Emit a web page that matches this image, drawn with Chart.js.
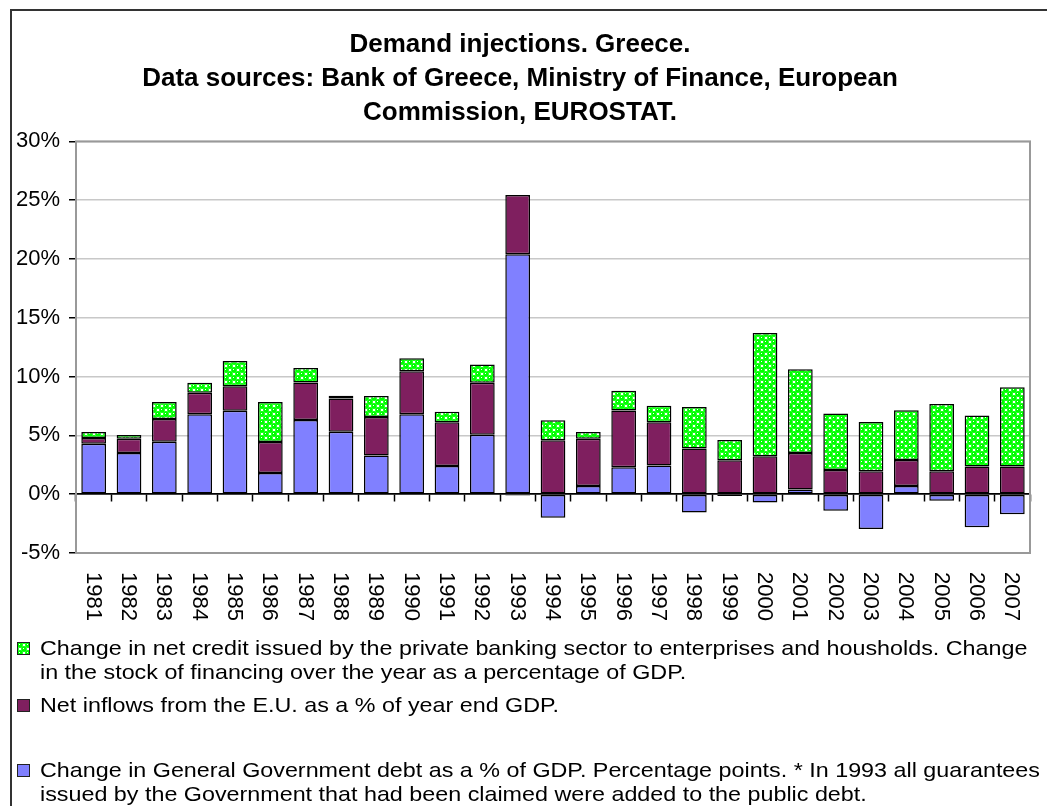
<!DOCTYPE html>
<html>
<head>
<meta charset="utf-8">
<script src="https://cdn.jsdelivr.net/npm/chart.js@4"></script>
<style>
  body { margin: 0; background: #fff; font-family: "Liberation Sans", Arial, sans-serif; }
  #wrap { position: relative; width: 1047px; height: 806px; overflow: hidden; }
  #frame { position: absolute; left: 10px; top: 9px; width: 1100px; height: 900px;
           border-left: 2px solid #333; border-top: 2px solid #333; }
  #chart { position: absolute; left: 0; top: 0; }
  .item { position: absolute; left: 17px; font-size: 21px; line-height: 24px; color: #000; }
  .item .box { position: absolute; left: 0; top: 6px; width: 11px; height: 11px; border: 1px solid #222; }
  .item .txt { position: absolute; left: 23px; white-space: nowrap; transform-origin: left top; transform: scaleX(1.11); }
</style>
</head>
<body>
<div id="wrap">
  <div id="frame"></div>
  <canvas id="chart" width="1047" height="806"></canvas>
  <div id="legend"></div>
</div>
<script>
const years = ['1981','1982','1983','1984','1985','1986','1987','1988','1989','1990','1991','1992','1993','1994',
  '1995','1996','1997','1998','1999','2000','2001','2002','2003','2004','2005','2006','2007'];

// change in general government debt, % of GDP
const govDebt = [4.3, 3.5, 4.45, 6.8, 7.1, 1.8, 6.3, 5.3, 3.3, 6.8, 2.4, 5.05, 20.4, -2.0,
  0.7, 2.3, 2.45, -1.55, -0.15, -0.7, 0.4, -1.4, -2.95, 0.7, -0.55, -2.8, -1.7];
// net inflows from the E.U., % of GDP
const euInflows = [0.48, 1.22, 1.95, 1.82, 2.09, 2.64, 3.2, 2.83, 3.26, 3.66, 3.71, 4.42, 5.04, 4.59,
  4.02, 4.82, 3.66, 3.88, 2.89, 3.23, 3.11, 2.06, 1.95, 2.21, 1.95, 2.35, 2.35];
// change in net private bank credit, % of GDP
const privateCredit = [0.5, 0.31, 1.44, 0.85, 2.13, 3.39, 1.24, 0.25, 1.78, 1.1, 0.9, 1.55, -0.1, 1.7,
  0.57, 1.67, 1.42, 3.54, 1.72, 10.47, 7.11, 4.8, 4.19, 4.22, 5.72, 4.34, 6.74];

const yTicks = [-5, 0, 5, 10, 15, 20, 25, 30];

const titleLines = [
  'Demand injections. Greece.',
  'Data sources: Bank of Greece, Ministry of Finance, European',
  'Commission, EUROSTAT.'
];

const legendGreen = ['Change in net credit issued by the private banking sector to enterprises and housholds. Change',
  'in the stock of financing over the year as a percentage of GDP.'];
const legendPurple = ['Net inflows from the E.U. as a % of year end GDP.'];
const legendBlue = ['Change in General Government debt as a % of GDP. Percentage points. * In 1993 all guarantees',
  'issued by the Government that had been claimed were added to the public debt.'];

const FONT = '"Liberation Sans", Arial, sans-serif';
const BLUE = '#8080FF';
const PURPLE = '#7F1F5F';

// green "balls" pattern like the excel fill
function makePattern() {
  const c = document.createElement('canvas');
  c.width = 8; c.height = 8;
  const g = c.getContext('2d');
  g.fillStyle = '#fff';
  g.fillRect(0, 0, 8, 8);
  g.fillStyle = '#00FF00';
  [[2, 2], [6, 6]].forEach(([cx, cy]) => {
    for (let dx = -8; dx <= 8; dx += 8) {
      for (let dy = -8; dy <= 8; dy += 8) {
        g.beginPath();
        g.arc(cx + dx, cy + dy, 2.9, 0, Math.PI * 2);
        g.fill();
      }
    }
  });
  g.fillStyle = '#fff';
  g.fillRect(1, 1, 1, 1);
  g.fillRect(5, 5, 1, 1);
  return c;
}
const patternCanvas = makePattern();
const greenFill = document.getElementById('chart').getContext('2d').createPattern(patternCanvas, 'repeat');

// gray frame round the plot area
const plotFrame = {
  id: 'plotFrame',
  beforeDatasetsDraw(chart) {
    const { ctx, chartArea: a } = chart;
    ctx.save();
    ctx.strokeStyle = '#999';
    ctx.lineWidth = 2;
    ctx.strokeRect(a.left, a.top, a.right - a.left, a.bottom - a.top);
    ctx.restore();
  }
};

// year labels turned 90 degrees clockwise under the plot
const yearLabels = {
  id: 'yearLabels',
  afterDraw(chart) {
    const { ctx, chartArea: a } = chart;
    const xs = chart.scales.x;
    ctx.save();
    ctx.font = '22px ' + FONT;
    ctx.fillStyle = '#000';
    ctx.textAlign = 'left';
    ctx.textBaseline = 'middle';
    years.forEach((y, i) => {
      ctx.save();
      ctx.translate(xs.getPixelForValue(i) - 1, a.bottom + 19);
      ctx.rotate(Math.PI / 2);
      ctx.fillText(y, 0, 0);
      ctx.restore();
    });
    ctx.restore();
  }
};

new Chart(document.getElementById('chart'), {
  type: 'bar',
  data: {
    labels: years,
    datasets: [
      { label: legendBlue.join(' '), data: govDebt, backgroundColor: BLUE },
      { label: legendPurple.join(' '), data: euInflows, backgroundColor: PURPLE },
      { label: legendGreen.join(' '), data: privateCredit, backgroundColor: greenFill }
    ]
  },
  options: {
    responsive: false,
    animation: false,
    datasets: {
      bar: { borderColor: '#000', borderWidth: 1.5, borderSkipped: false,
             barPercentage: 0.7, categoryPercentage: 1.0 }
    },
    layout: { padding: { top: 10, left: 10, right: 17, bottom: 253 } },
    plugins: {
      legend: { display: false },
      tooltip: { enabled: false },
      title: {
        display: true,
        text: titleLines,
        color: '#000',
        font: { family: FONT, size: 26, weight: 'bold', lineHeight: 1.3 },
        padding: { top: 18, bottom: 12 }
      }
    },
    scales: {
      x: {
        stacked: true,
        position: { y: 0 },
        offset: true,
        ticks: { display: false },
        grid: { offset: true, drawOnChartArea: false, tickLength: 7, tickColor: '#000', tickWidth: 1.5 },
        border: { color: '#000', width: 1.5 }
      },
      y: {
        stacked: true,
        min: -5,
        max: 30,
        afterBuildTicks(s) { s.ticks = yTicks.map(v => ({ value: v })); },
        afterFit(s) { s.width = 66; },
        ticks: {
          callback: v => v + '%',
          color: '#000',
          padding: 9,
          font: { family: FONT, size: 22 }
        },
        grid: {
          color: c => (c.tick && c.tick.value === 0 ? '#000' : '#C8C8C8'),
          lineWidth: 1.5,
          tickLength: 7,
          tickColor: '#000'
        },
        border: { color: '#000', width: 1.5 }
      }
    }
  },
  plugins: [plotFrame, yearLabels]
});

// legend under the chart, same order as excel (top series first)
const legendItems = [
  { lines: legendGreen, fill: 'url(' + patternCanvas.toDataURL() + ')', top: 636 },
  { lines: legendPurple, fill: PURPLE, top: 693 },
  { lines: legendBlue, fill: BLUE, top: 758 }
];
const legendEl = document.getElementById('legend');
legendItems.forEach(it => {
  const d = document.createElement('div');
  d.className = 'item';
  d.style.top = it.top + 'px';
  const box = document.createElement('div');
  box.className = 'box';
  box.style.background = it.fill;
  d.appendChild(box);
  it.lines.forEach((l, i) => {
    const t = document.createElement('div');
    t.className = 'txt';
    t.style.top = (i * 24) + 'px';
    t.textContent = l;
    d.appendChild(t);
  });
  legendEl.appendChild(d);
});
</script>
</body>
</html>
